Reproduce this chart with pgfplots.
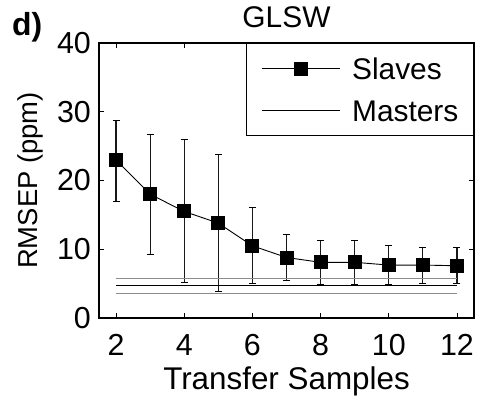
\documentclass[border=0pt]{standalone}
\usepackage{pgfplots}
\usepackage{pgfplotstable}
\pgfplotsset{compat=1.18}
\usepackage{fontspec}
\setmainfont{Liberation Sans}

% mean RMSEP of the slave instruments, with the lower and upper ends of the spread
\pgfplotstableread{
x  y     lo    hi
2  23.0  17.0  28.7
3  18.0  9.25  26.7
4  15.5  5.1   26.0
5  13.8  3.9   23.8
6  10.5  5.0   16.1
7  8.8   5.5   12.2
8  8.1   4.9   11.3
9  8.1   4.9   11.3
10 7.7   4.8   10.6
11 7.7   5.0   10.2
12 7.6   5.0   10.2
}\slaves

\newcommand{\fs}[1]{\fontsize{#1}{#1}\selectfont}

% long legend samples
\pgfplotsset{
  long mark legend/.style={legend image code/.code={
    \draw[mark repeat=2, mark phase=2, ##1]
      plot coordinates {(0bp,0bp) (39bp,0bp) (78bp,0bp)};}},
  long line legend/.style={legend image code/.code={
    \draw[##1] (0bp,0bp) -- (78bp,0bp);}},
}

\begin{document}
\begin{tikzpicture}
\useasboundingbox (-99bp,-87bp) rectangle (381bp,318bp);
\begin{axis}[
  at={(0,0)}, anchor=south west,
  scale only axis, width=375bp, height=275bp,
  xmin=1.5, xmax=12.5, ymin=0, ymax=40,
  xtick={2,4,...,12}, ytick={0,10,...,40},
  tick align=inside, major tick length=5bp,
  tick style={line width=0.8bp, black},
  axis line style={line width=1.2bp},
  /pgf/number format/assume math mode=true,
  xticklabel style={font=\fs{30.5}, inner sep=0pt, anchor=base, yshift=-37bp},
  yticklabel style={font=\fs{30.5}, inner sep=0pt, anchor=east, xshift=-8bp},
  title={GLSW},
  title style={font=\fs{30}, inner sep=0pt, anchor=base,
    at={(axis description cs:0.5,1.0364)}},
  xlabel={Transfer Samples},
  xlabel style={font=\fs{31.5}, inner sep=0pt, anchor=base,
    at={(axis description cs:0.5,-0.2618)}},
  ylabel={RMSEP (ppm)},
  ylabel style={font=\fs{27.5}, inner sep=0pt, anchor=base,
    at={(axis description cs:-0.1627,0.5)}},
  legend style={at={(1,1)}, anchor=north east, font=\fs{30},
    draw=black, line width=1.2bp, fill=white,
    inner xsep=15bp, inner ysep=14bp,
    row sep=20bp, column sep=12bp,
    nodes={inner sep=0pt, text height=22bp, text depth=0pt},
    cells={anchor=west}},
  clip=false,
]
\addplot[black, line width=0.9bp, mark=square*, mark size=6.5bp,
  mark options={solid, fill=black}, long mark legend,
  error bars/.cd, y dir=both, y explicit,
  error mark=-, error mark options={black, line width=1.1bp, mark size=3.5bp, rotate=90},
  error bar style={black!90, line width=1.1bp}]
  table[x=x, y=y, y error plus expr=\thisrow{hi}-\thisrow{y},
        y error minus expr=\thisrow{y}-\thisrow{lo}] {\slaves};
\addlegendentry{Slaves}
\addplot[black, line width=0.9bp, long line legend]
  coordinates {(2,4.67) (12,4.67)};
\addlegendentry{Masters}
% the two grey lines bracket the master instrument
\addplot[black!45, line width=1.1bp, forget plot] coordinates {(2,5.7) (12,5.7)};
\addplot[black!45, line width=1.1bp, forget plot] coordinates {(2,3.6) (12,3.6)};
\end{axis}
\node[anchor=base west, inner sep=0pt, font=\fs{32}\bfseries] at (-87bp,282bp) {d)};
\end{tikzpicture}
\end{document}
